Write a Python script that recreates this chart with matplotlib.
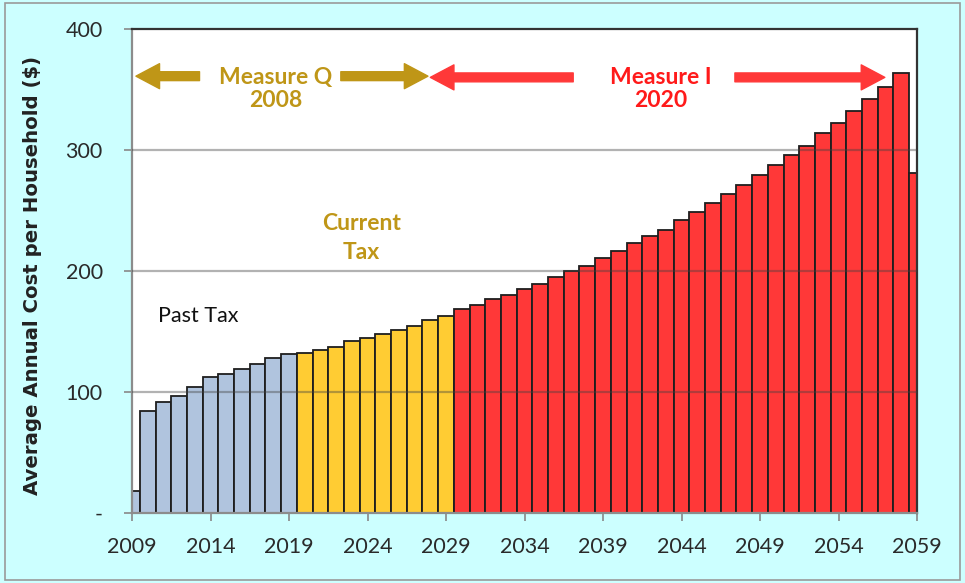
import numpy as np
import matplotlib
matplotlib.use("Agg")
import matplotlib.pyplot as plt
from matplotlib.patches import Rectangle
from matplotlib.ticker import FuncFormatter

plt.rcParams['font.family'] = ['Lato', 'DejaVu Sans']

# ── data ──────────────────────────────────────────────────────────────────────
past_years = np.arange(2009, 2020)
past_tax = [18, 84, 92, 97, 104, 112, 115, 119, 123, 128, 131]

current_years = np.arange(2020, 2030)
current_tax = [132, 135, 137, 142, 145, 148, 151, 154.5, 159.5, 163]

measure_i_years = np.arange(2030, 2060)
measure_i_tax = [168.5, 171.5, 176.5, 180, 185, 189.5, 195, 200, 204.5, 211,
                 216.5, 223, 229, 234, 242.5, 249, 256, 264, 271, 279,
                 287.5, 296, 303.5, 314, 322.5, 332, 342, 352, 363.5, 281]

x_ticks = np.arange(2009, 2060, 5)
y_ticks = [0, 100, 200, 300, 400]

BG = "#ccffff"
BLUE = "#b0c4de"
YELLOW = "#ffcc33"
RED = "#ff3838"
GOLD = "#bf9617"
TEXT_RED = "#ff1a1a"
EDGE = "#1e1e1e"

fig = plt.figure(figsize=(9.65, 5.83), dpi=100, facecolor=BG)
ax = fig.add_axes([0.1368, 0.1201, 0.8135, 0.8302])
ax.set_facecolor("white")

for yrs, vals, col in [(past_years, past_tax, BLUE),
                       (current_years, current_tax, YELLOW),
                       (measure_i_years, measure_i_tax, RED)]:
    ax.bar(yrs, vals, width=1.0, color=col, edgecolor=EDGE, linewidth=1.3, zorder=2)

ax.set_xlim(2009, 2059)
ax.set_ylim(0, 400)
ax.set_xticks(x_ticks)
ax.set_yticks(y_ticks)
ax.yaxis.set_major_formatter(FuncFormatter(lambda v, p: "-" if v == 0 else f"{v:.0f}"))

# grid over the bars, like the original
for yv in y_ticks[1:-1]:
    ax.axhline(yv, color=(0.25, 0.25, 0.25, 0.4), linewidth=1.6, zorder=3)

ax.tick_params(axis='both', direction='out', length=6, width=1.2, color="#888888",
               labelsize=15.5, labelcolor="#2a2a2a")
ax.tick_params(axis='y', pad=15)
ax.tick_params(axis='x', pad=11)

for side in ["left", "bottom"]:
    ax.spines[side].set_color("#8c8c8c")
    ax.spines[side].set_linewidth(1.6)
for side in ["top", "right"]:
    ax.spines[side].set_color("#333333")
    ax.spines[side].set_linewidth(1.6)

ax.set_ylabel("Average Annual Cost per Household ($)", family="DejaVu Sans",
              fontweight="bold", fontsize=14.2, color="#222222")
ax.yaxis.set_label_coords(-0.1146, 0.49)

# ── annotations ───────────────────────────────────────────────────────────────
def fat_arrow(x0, x1, y, color):
    ax.annotate("", xy=(x1, y), xytext=(x0, y), zorder=5,
                arrowprops=dict(arrowstyle="simple,head_length=0.85,head_width=0.9,tail_width=0.32",
                                mutation_scale=20, color=color, shrinkA=0, shrinkB=0))

fat_arrow(2013.3, 2009.25, 361, GOLD)
fat_arrow(2022.3, 2027.85, 361, GOLD)
fat_arrow(2037.1, 2028.0, 360, RED)
fat_arrow(2047.4, 2056.95, 360, RED)

ax.text(2018.15, 350, "Measure Q\n2008", ha="center", va="center", fontsize=16.5,
        fontweight="bold", color=GOLD, linespacing=1.12, zorder=6)
ax.text(2042.7, 350, "Measure I\n2020", ha="center", va="center", fontsize=16.5,
        fontweight="bold", color=TEXT_RED, linespacing=1.12, zorder=6)
ax.text(2023.6, 227, "Current\nTax", ha="center", va="center", fontsize=16.5,
        fontweight="bold", color=GOLD, linespacing=1.45, zorder=6)
ax.text(2010.65, 163, "Past Tax", ha="left", va="center", fontsize=15.5,
        color="#111111", zorder=6)

# thin frame around the whole picture
fig.patches.append(Rectangle((0.005, 0.005), 0.99, 0.99, transform=fig.transFigure,
                             fill=False, edgecolor="#9a9a9a", linewidth=1.2))

fig.savefig("out.png", dpi=100, facecolor=BG)
